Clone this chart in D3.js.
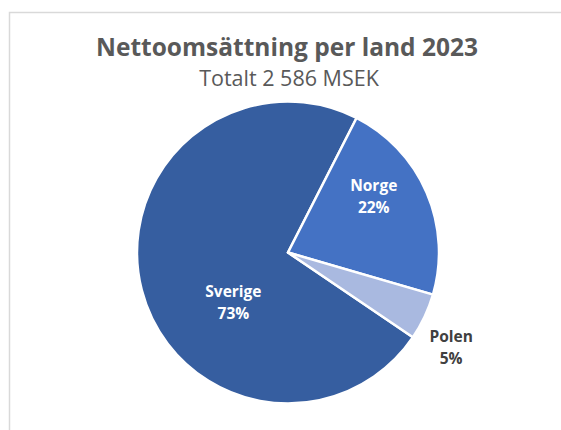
<!DOCTYPE html>
<html>
<head>
<meta charset="utf-8">
<script src="https://cdn.jsdelivr.net/npm/d3@7"></script>
<style>
  body { margin: 0; background: #fff; }
  svg { display: block; }
</style>
</head>
<body>
<div id="chart"></div>
<script>
// data (MSEK, total 2 586)
const countries = ["Sverige", "Norge", "Polen"];
const sales = [1888, 569, 129];
const colors = ["#365EA0", "#4472C4", "#A9B9E0"];

const title = "Nettoomsättning per land 2023";
const subtitle = "Totalt 2 586 MSEK";

const W = 561, H = 430;
const cx = 288, cy = 252.5, radius = 151;

// label placement per slice: radius factor and angle nudge (deg)
const labelPlace = [
  { r: 0.49, da: -28, fill: "#fff" },
  { r: 0.68, da: -10, fill: "#fff" },
  { r: 1.25, da: 5, fill: "#404040" }
];

const svg = d3.select("#chart")
  .append("svg")
  .attr("width", W)
  .attr("height", H);

// chart frame (only top and left edges visible)
svg.append("path")
  .attr("d", `M9.5,${H} V12.5 H${W}`)
  .attr("fill", "none")
  .attr("stroke", "#d9d9d9")
  .attr("stroke-width", 1.5);

svg.append("text")
  .attr("x", 287).attr("y", 56)
  .attr("text-anchor", "middle")
  .attr("font-family", "Open Sans, sans-serif")
  .attr("font-weight", "bold")
  .attr("font-size", 24.5)
  .attr("fill", "#595959")
  .text(title);

svg.append("text")
  .attr("x", 289).attr("y", 86)
  .attr("text-anchor", "middle")
  .attr("font-family", "Open Sans, sans-serif")
  .attr("font-size", 21.5)
  .attr("fill", "#595959")
  .text(subtitle);

const total = d3.sum(sales);
const sverigeShare = sales[0] / total;
const deg = Math.PI / 180;
const start = 27 * deg - sverigeShare * 2 * Math.PI;

const pie = d3.pie()
  .sort(null)
  .startAngle(start)
  .endAngle(start + 2 * Math.PI)
  .value(d => d);

const arcs = pie(sales);

const arc = d3.arc().innerRadius(0).outerRadius(radius);

const g = svg.append("g").attr("transform", `translate(${cx},${cy})`);

g.selectAll("path.slice").data(arcs).enter().append("path")
  .attr("class", "slice")
  .attr("d", arc)
  .attr("fill", (d, i) => colors[i])
  .attr("stroke", "#fff")
  .attr("stroke-width", 2.5)
  .attr("stroke-linejoin", "round");

const labels = g.selectAll("g.lbl").data(arcs).enter().append("g")
  .attr("class", "lbl")
  .attr("transform", (d, i) => {
    const p = labelPlace[i];
    const a = (d.startAngle + d.endAngle) / 2 + p.da * deg;
    const r = radius * p.r;
    return `translate(${r * Math.sin(a)},${-r * Math.cos(a)})`;
  });

labels.append("text")
  .attr("text-anchor", "middle")
  .attr("font-family", "Open Sans, sans-serif")
  .attr("font-weight", "bold")
  .attr("font-size", 15.5)
  .attr("fill", (d, i) => labelPlace[i].fill)
  .each(function(d, i) {
    const t = d3.select(this);
    t.append("tspan").attr("x", 0).attr("y", -5).text(countries[i]);
    t.append("tspan").attr("x", 0).attr("y", 17)
      .text(Math.round(d.value / total * 100) + "%");
  });
</script>
</body>
</html>
